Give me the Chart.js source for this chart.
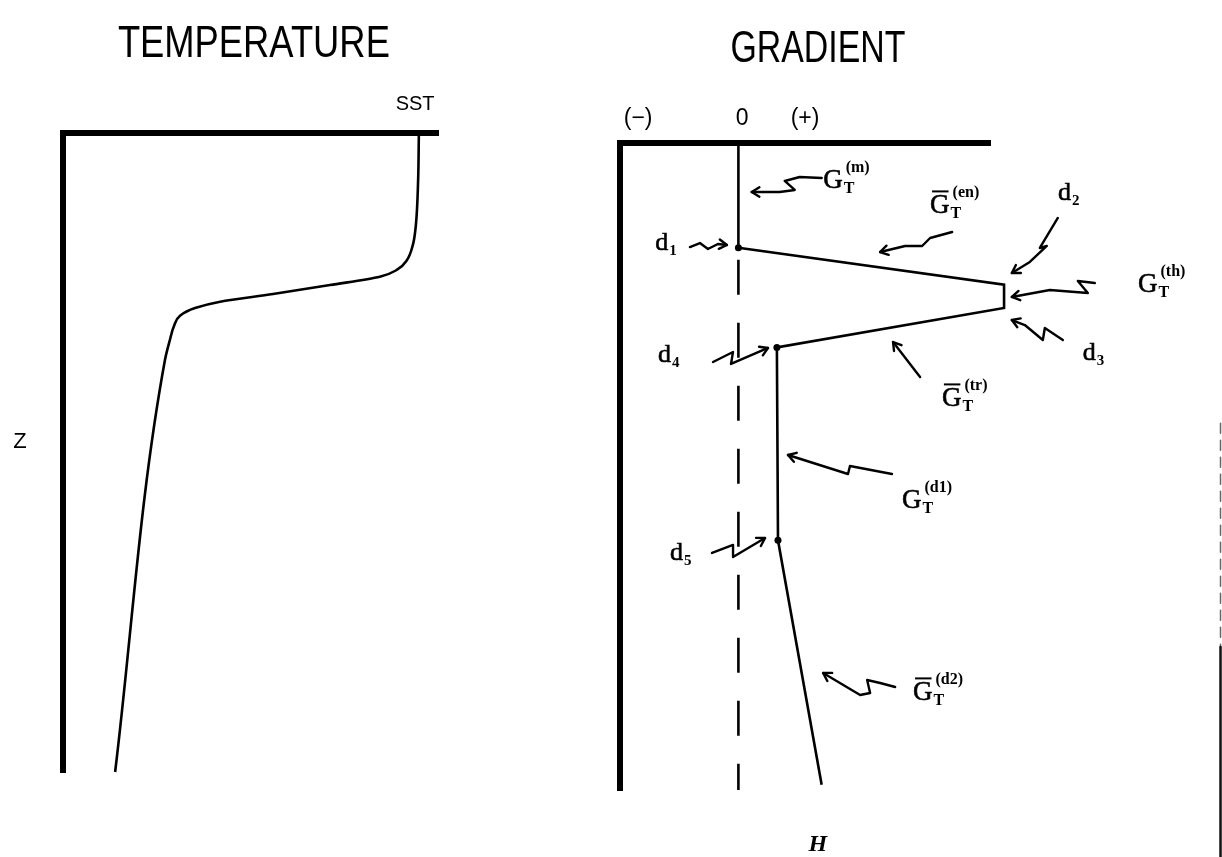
<!DOCTYPE html>
<html><head><meta charset="utf-8">
<script src="https://cdn.jsdelivr.net/npm/chart.js@4.4.0/dist/chart.umd.min.js"></script>
<style>
html,body{margin:0;padding:0;background:#fff;width:1222px;height:857px;overflow:hidden}
#cl{position:absolute;left:0;top:0}
#cr{position:absolute;left:560px;top:0}
</style></head><body>
<canvas id="cl" width="560" height="857"></canvas>
<canvas id="cr" width="662" height="857"></canvas>
<script>
// ---------- DATA ----------
// Temperature profile (left panel): temperature (arbitrary units) vs depth (0 = surface, 100 = bottom)
const tempValue = [9.49, 9.47, 9.41, 9.33, 9.17, 8.91, 8.45, 7.12, 5.60, 4.19, 3.52, 3.12, 2.96, 2.85, 2.72, 1.39];
const tempDepth = [0, 7.4, 14.4, 17.5, 19.9, 21.4, 22.5, 23.8, 25.2, 26.4, 27.4, 28.6, 30.2, 32.4, 35.5, 100];

// Gradient profile (right panel)
const gradNodes = ['d1', 'd2', 'd3', 'd4', 'd5', 'H'];
const gradValue = [0, 7.18, 7.18, 1.04, 1.07, 2.25];
const gradDepth = [16.2, 21.9, 25.5, 31.6, 61.4, 99.2];
const mixedValue = [0, 0];
const mixedDepth = [0, 16.2];
const zeroValue = [0, 0];
const zeroDepth = [16.2, 100];

// Tick labels of the gradient axis
const gradTickLabels = ['(\u2212)', '0', '(+)'];
const gradTickValues = [-2.71, 0.1, 1.8];

// ---------- RENDER HELPERS ----------
const SERIF = '"Liberation Serif","DejaVu Serif",serif';
const SANS = '"Liberation Sans",Arial,"DejaVu Sans",sans-serif';

function heavyText(ctx, s, x, y) {
  ctx.fillText(s, x, y);
  ctx.lineWidth = 0.6; ctx.strokeText(s, x, y);
}

function drawRich(ctx, x, y, t) {
  ctx.textAlign = 'left'; ctx.textBaseline = 'alphabetic';
  ctx.font = t.size + 'px ' + SERIF;
  heavyText(ctx, t.main, x, y);
  const w = ctx.measureText(t.main).width;
  if (t.bar) {
    ctx.lineWidth = 2; ctx.beginPath();
    ctx.moveTo(x + 2, y - t.size * 0.8); ctx.lineTo(x + w - 1, y - t.size * 0.8); ctx.stroke();
  }
  const small = Math.round(t.size * 0.58);
  if (t.sub) { ctx.font = 'bold ' + small + 'px ' + SERIF; ctx.fillText(t.sub, x + w + 1, y + t.size * 0.2); }
  if (t.sup) { ctx.font = 'bold ' + small + 'px ' + SERIF; ctx.fillText(t.sup, x + w + 3, y - t.size * 0.58); }
}

const annot = {
  id: 'annot',
  afterDatasetsDraw(chart, args, o) {
    const ctx = chart.ctx, xs = chart.scales.x, ys = chart.scales.y;
    const P = (x, z) => [xs.getPixelForValue(x), ys.getPixelForValue(z)];
    ctx.save();
    ctx.fillStyle = '#000'; ctx.strokeStyle = '#000';
    (o.titles || []).forEach(t => {
      const [px, py] = P(t.x, t.z);
      ctx.font = t.size + 'px ' + SANS;
      const w = ctx.measureText(t.text).width;
      ctx.save(); ctx.translate(px, py); ctx.scale(t.width / w, 1);
      ctx.textAlign = 'center'; ctx.textBaseline = 'alphabetic';
      ctx.fillText(t.text, 0, 0); ctx.restore();
    });
    (o.plain || []).forEach(t => {
      const [px, py] = P(t.x, t.z);
      ctx.font = t.font; ctx.textAlign = 'center'; ctx.textBaseline = 'alphabetic';
      ctx.fillText(t.text, px, py);
    });
    (o.rich || []).forEach(t => { const [px, py] = P(t.x, t.z); drawRich(ctx, px, py, t); });
    (o.arrows || []).forEach(a => {
      const [tx, ty] = P(a.tip[0], a.tip[1]);
      ctx.lineWidth = 2.4; ctx.lineJoin = 'round'; ctx.lineCap = 'round';
      ctx.beginPath();
      a.path.forEach(([dx, dy], i) => i ? ctx.lineTo(tx + dx, ty + dy) : ctx.moveTo(tx + dx, ty + dy));
      ctx.lineTo(tx, ty); ctx.stroke();
      const [pdx, pdy] = a.path[a.path.length - 1];
      const ang = Math.atan2(-pdy, -pdx), L = 9, sp = 0.55;
      ctx.beginPath();
      ctx.moveTo(tx - L * Math.cos(ang - sp), ty - L * Math.sin(ang - sp));
      ctx.lineTo(tx, ty);
      ctx.lineTo(tx - L * Math.cos(ang + sp), ty - L * Math.sin(ang + sp));
      ctx.stroke();
    });
    if (o.scan) {
      const [sx, s0] = P(o.scan.x, o.scan.z0);
      const [, s1] = P(o.scan.x, o.scan.z1);
      const [, s2] = P(o.scan.x, o.scan.z2);
      ctx.strokeStyle = '#666'; ctx.lineWidth = 1.5; ctx.setLineDash([10, 7]);
      ctx.beginPath(); ctx.moveTo(sx, s0); ctx.lineTo(sx, s1); ctx.stroke();
      ctx.strokeStyle = '#111'; ctx.lineWidth = 2.5; ctx.setLineDash([]);
      ctx.beginPath(); ctx.moveTo(sx, s1); ctx.lineTo(sx, s2); ctx.stroke();
    }
    ctx.restore();
  }
};

function axes(xmin, xmax) {
  const common = {
    type: 'linear',
    grid: { display: false, drawTicks: false },
    ticks: { display: false },
    border: { display: true, width: 6, color: '#000' }
  };
  return {
    x: Object.assign({}, common, { position: 'top', min: xmin, max: xmax }),
    y: Object.assign({}, common, { position: 'left', min: 0, max: 100, reverse: true })
  };
}

const pts = (xs, zs) => xs.map((v, i) => ({ x: v, y: zs[i] }));

// ---------- LEFT: TEMPERATURE ----------
new Chart(document.getElementById('cl'), {
  type: 'line',
  data: {
    datasets: [{
      data: pts(tempValue, tempDepth),
      borderColor: '#000', borderWidth: 2.6, pointRadius: 0,
      cubicInterpolationMode: 'monotone', indexAxis: 'y', clip: false
    }]
  },
  options: {
    responsive: false, animation: false, indexAxis: 'y',
    layout: { padding: { left: 63, top: 133, right: 122, bottom: 85 } },
    scales: axes(0, 10),
    plugins: {
      legend: { display: false }, tooltip: { enabled: false },
      annot: {
        titles: [{ text: 'TEMPERATURE', x: 5.09, z: -11.9, size: 45, width: 272 }],
        plain: [
          { text: 'SST', x: 9.39, z: -3.6, font: '20px ' + SANS },
          { text: 'Z', x: -1.15, z: 49.3, font: '22px ' + SANS }
        ]
      }
    }
  },
  plugins: [annot]
});

// ---------- RIGHT: GRADIENT ----------
new Chart(document.getElementById('cr'), {
  type: 'line',
  data: {
    datasets: [
      { data: pts(mixedValue, mixedDepth), borderColor: '#000', borderWidth: 2.6, pointRadius: 0, clip: false },
      { data: pts(zeroValue, zeroDepth), borderColor: '#000', borderWidth: 2.6, pointRadius: 0,
        borderDash: [35, 28], borderDashOffset: 51, clip: false },
      { data: pts(gradValue, gradDepth), borderColor: '#000', borderWidth: 2.6, tension: 0,
        pointRadius: [3.5, 2, 2, 3.5, 3.5, 0], pointBackgroundColor: '#000', pointBorderWidth: 0, clip: false }
    ]
  },
  options: {
    responsive: false, animation: false,
    layout: { padding: { left: 60, top: 143, right: 232, bottom: 67 } },
    scales: axes(-3.2, 6.8),
    plugins: {
      legend: { display: false }, tooltip: { enabled: false },
      annot: {
        titles: [{ text: 'GRADIENT', x: 2.15, z: -12.5, size: 44, width: 175 }],
        plain: gradTickLabels.map((t, i) => ({ text: t, x: gradTickValues[i], z: -2.8, font: '23px ' + SANS }))
          .concat([{ text: 'H', x: 2.15, z: 109.4, font: 'italic bold 24px ' + SERIF }]),
        rich: [
          { main: 'd', sub: '1', x: -2.25, z: 16.54, size: 26 },
          { main: 'd', sub: '2', x: 8.64, z: 8.81, size: 26 },
          { main: 'd', sub: '3', x: 9.31, z: 33.54, size: 26 },
          { main: 'd', sub: '4', x: -2.17, z: 33.85, size: 26 },
          { main: 'd', sub: '5', x: -1.85, z: 64.45, size: 26 },
          { main: 'G', sub: 'T', sup: '(m)', x: 2.29, z: 6.96, size: 27 },
          { main: 'G', sub: 'T', sup: '(en)', bar: true, x: 5.18, z: 10.82, size: 27 },
          { main: 'G', sub: 'T', sup: '(th)', x: 10.8, z: 23.03, size: 27 },
          { main: 'G', sub: 'T', sup: '(tr)', bar: true, x: 5.5, z: 40.65, size: 27 },
          { main: 'G', sub: 'T', sup: '(d1)', x: 4.42, z: 56.41, size: 27 },
          { main: 'G', sub: 'T', sup: '(d2)', bar: true, x: 4.72, z: 86.09, size: 27 }
        ],
        arrows: [
          { tip: [0.36, 7.57], path: [[70, -14], [48, -15], [33, -11], [43, -2], [28, 0]] },
          { tip: [3.83, 16.85], path: [[72, -20], [50, -14], [42, -6], [25, -6]] },
          { tip: [7.39, 20.09], path: [[46, -55], [28, -25], [35, -27], [18, -11]] },
          { tip: [7.39, 23.8], path: [[83, -14], [66, -16], [76, -4], [38, -7]] },
          { tip: [7.39, 27.36], path: [[51, 20], [33, 8], [31, 20], [13, 5]] },
          { tip: [0.80, 31.68], path: [[-55, 14], [-35, 4], [-37, 16]] },
          { tip: [4.18, 30.76], path: [[27, 35]] },
          { tip: [-0.31, 15.77], path: [[-37, 2], [-27, -2], [-19, 4], [-9, -1]] },
          { tip: [1.34, 48.22], path: [[104, 19], [62, 11], [60, 19]] },
          { tip: [0.72, 61.05], path: [[-53, 15], [-32, 7], [-32, 19]] },
          { tip: [2.29, 81.92], path: [[72, 14], [57, 10], [44, 7], [47, 20], [37, 22]] }
        ],
        scan: { x: 13.03, z0: 43.3, z1: 77.9, z2: 110.4 }
      }
    }
  },
  plugins: [annot]
});
</script>
</body></html>
